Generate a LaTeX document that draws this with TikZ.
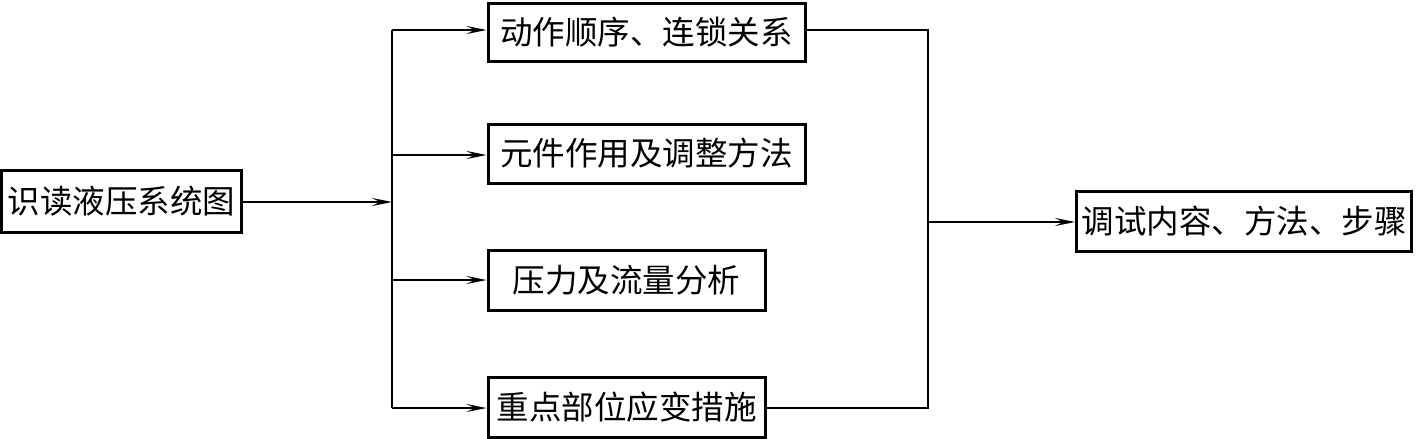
\documentclass[tikz,border=0pt]{standalone}
\usepackage{fontspec}
\setmainfont{Noto Sans CJK SC}
\usetikzlibrary{arrows.meta}
\begin{document}
\begin{tikzpicture}[x=1pt,y=-1pt,
  box/.style={draw,line width=3pt,inner sep=0pt,font=\fontsize{32.5}{33}\selectfont},
  conn/.style={line width=1.4pt},
  arr/.style={conn,-{Stealth[length=20pt,width=8pt,inset=8pt]}}]
\useasboundingbox (0,0) rectangle (1417,439);
\node[box,minimum width=240pt,minimum height=62pt] (src) at (121.5,201) {识读液压系统图};
\node[box,minimum width=317pt,minimum height=58pt] (b1) at (646.5,32) {动作顺序、连锁关系};
\node[box,minimum width=317pt,minimum height=59pt] (b2) at (646.5,153.5) {元件作用及调整方法};
\node[box,minimum width=277pt,minimum height=60pt] (b3) at (626.5,280) {压力及流量分析};
\node[box,minimum width=277pt,minimum height=60pt] (b4) at (626.5,407) {重点部位应变措施};
\node[box,minimum width=335pt,minimum height=60pt] (dst) at (1244,221) {调试内容、方法、步骤};
\coordinate (jl) at (392,202);
\coordinate (t1) at (392,30);
\coordinate (t2) at (392,155);
\coordinate (t3) at (392,280);
\coordinate (t4) at (392,408);
\coordinate (r1) at (928,30);
\coordinate (r4) at (928,408);
\coordinate (jr) at (928,222);
\draw[arr] (src.east |- jl) -- (jl);
\draw[conn] (t1) -- (t4);
\draw[arr] (t1) -- (b1.west |- t1);
\draw[arr] (t2) -- (b2.west |- t2);
\draw[arr] (t3) -- (b3.west |- t3);
\draw[arr] (t4) -- (b4.west |- t4);
\draw[conn] (b1.east |- r1) -- (r1) -- (r4) -- (b4.east |- r4);
\draw[arr] (jr) -- (dst.west |- jr);
\end{tikzpicture}
\end{document}
